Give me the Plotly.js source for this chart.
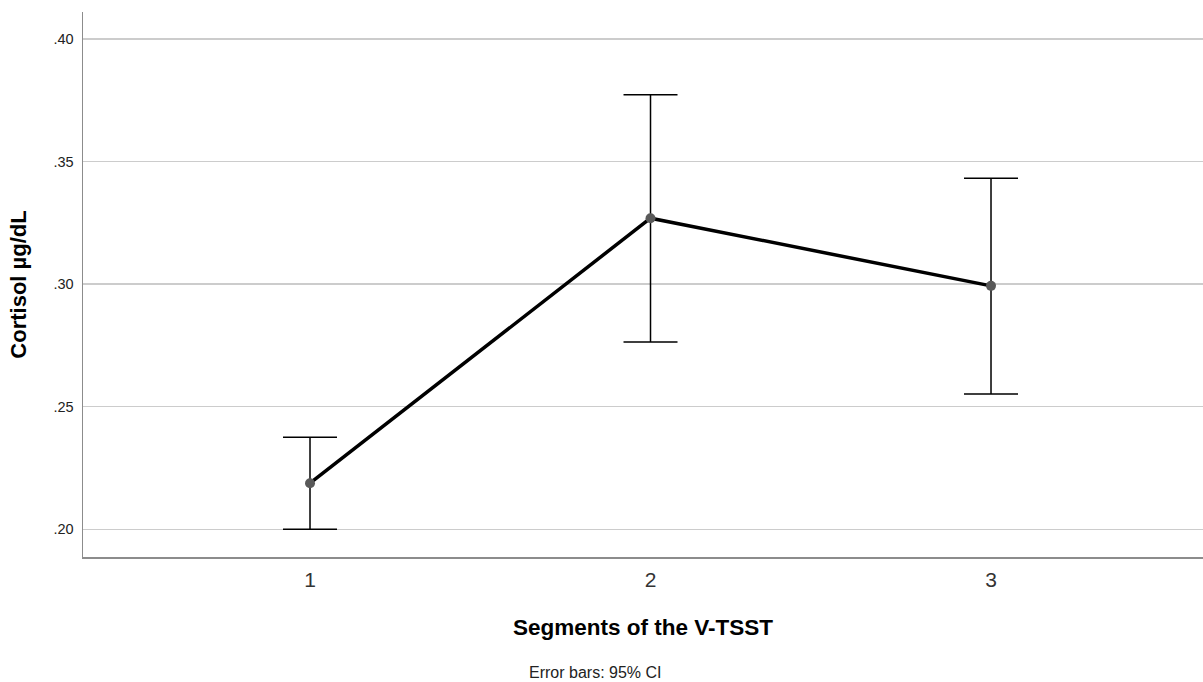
<!DOCTYPE html>
<html>
<head>
<meta charset="utf-8">
<script src="https://cdn.plot.ly/plotly-3.0.1.min.js"></script>
<style>html,body{margin:0;padding:0;background:#fff;}#chart{width:1203px;height:682px;}</style>
</head>
<body>
<div id="chart"></div>
<script>
const segments = [1, 2, 3];
const meanCortisol = [0.2188, 0.3269, 0.2993];
const ciUpper = [0.2375, 0.3772, 0.3432];
const ciLower = [0.2000, 0.2764, 0.2552];
const yTickVals = [0.20, 0.25, 0.30, 0.35, 0.40];
const yTickText = ['.20', '.25', '.30', '.35', '.40'];

const errPlus = meanCortisol.map((m, i) => ciUpper[i] - m);
const errMinus = meanCortisol.map((m, i) => m - ciLower[i]);

const trace = {
  x: segments,
  y: meanCortisol,
  type: 'scatter',
  mode: 'lines+markers',
  line: {color: '#000000', width: 3.5},
  marker: {color: '#595959', size: 10},
  error_y: {
    type: 'data', symmetric: false,
    array: errPlus, arrayminus: errMinus,
    color: '#000000', thickness: 1.5, width: 27
  },
  hoverinfo: 'x+y'
};

const layout = {
  width: 1203, height: 682,
  margin: {l: 83, r: 0, t: 12, b: 125},
  paper_bgcolor: '#ffffff', plot_bgcolor: '#ffffff',
  showlegend: false,
  font: {family: 'Liberation Sans, Arial, sans-serif', color: '#000'},
  xaxis: {
    range: [0.3333, 3.6226],
    tickvals: segments, ticktext: segments.map(String),
    showgrid: false, zeroline: false,
    showline: true, linecolor: '#8c8c8c', linewidth: 1.5,
    ticks: '', ticklabelstandoff: 3,
    tickfont: {size: 21, color: '#333333'},
    title: {text: 'Segments of the V-TSST', font: {size: 22.5, color: '#000', weight: 'bold'}, standoff: 29}
  },
  yaxis: {
    range: [0.1887, 0.411],
    tickvals: yTickVals, ticktext: yTickText,
    showgrid: true, gridcolor: '#cccccc', gridwidth: 1.3,
    zeroline: false,
    showline: true, linecolor: '#8c8c8c', linewidth: 1.5,
    ticks: '', ticklabelstandoff: 5,
    tickfont: {size: 14.5, color: '#222222'},
    title: {text: 'Cortisol µg/dL', font: {size: 22, color: '#000', weight: 'bold'}, standoff: 20}
  },
  annotations: [{
    text: 'Error bars: 95% CI', xref: 'paper', yref: 'paper',
    x: (595 - 83) / 1120, y: (557 - 672) / 545,
    xanchor: 'center', yanchor: 'middle', showarrow: false,
    font: {size: 16, color: '#222222'}
  }]
};

Plotly.newPlot('chart', [trace], layout, {displayModeBar: false, staticPlot: true});
</script>
</body>
</html>
